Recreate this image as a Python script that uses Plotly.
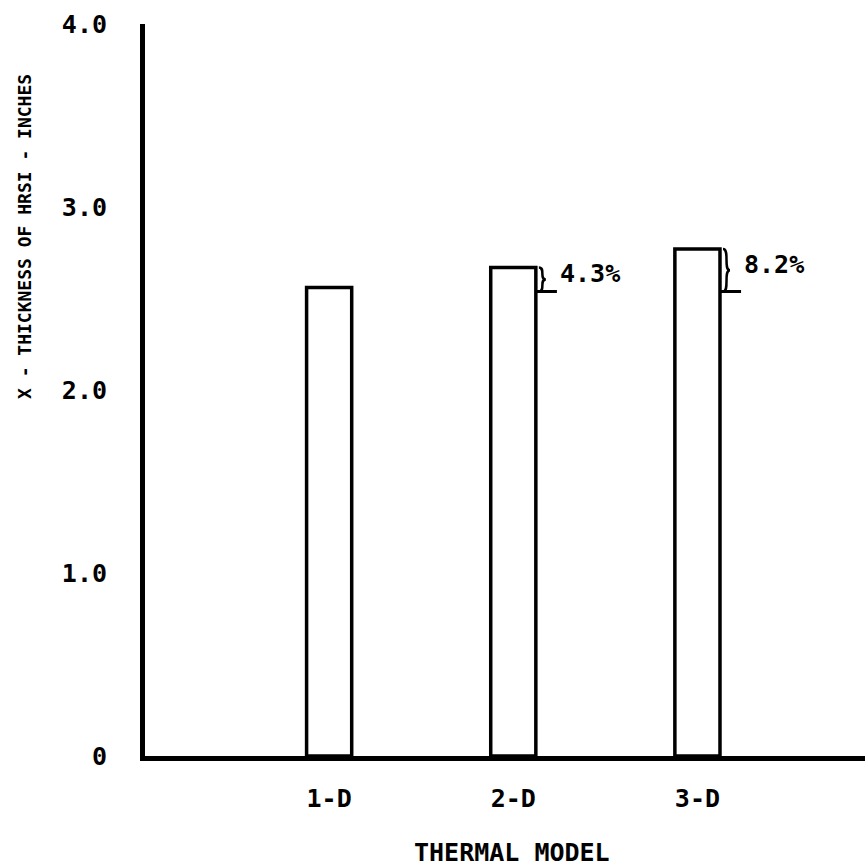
import plotly.graph_objects as go

categories = ["1-D", "2-D", "3-D"]
positions = [1, 2, 3]
thickness = [2.56, 2.67, 2.77]
pct_labels = ["", "4.3%", "8.2%"]
ytick_vals = [0, 1, 2, 3, 4]
ytick_text = ["0", "1.0", "2.0", "3.0", "4.0"]

FONT = "DejaVu Sans Mono"
BW = 0.245
PX_X = 1 / 183.5   # data units per pixel (x)
PX_Y = 1 / 184.0   # data units per pixel (y)

fig = go.Figure()
fig.add_trace(go.Bar(
    x=positions, y=thickness, width=BW,
    marker=dict(color="white", line=dict(color="black", width=3.5)),
    hoverinfo="skip",
))

shapes = []
annotations = []
base = thickness[0]
for xi, v, lab in zip(positions, thickness, pct_labels):
    if not lab:
        continue
    x0 = xi + BW / 2 + 3 * PX_X
    xm = x0 + 7 * PX_X
    ytop = v
    ybot = base - 4 * PX_Y
    ymid = (ytop + ybot) / 2
    path = (f"M {x0},{ytop} C {xm},{ytop} {x0},{ymid} {xm},{ymid} "
            f"C {x0},{ymid} {xm},{ybot} {x0},{ybot}")
    shapes.append(dict(type="path", path=path, xref="x", yref="y",
                       line=dict(color="black", width=2.5)))
    shapes.append(dict(type="line", xref="x", yref="y",
                       x0=x0 - 3 * PX_X, x1=x0 + 18 * PX_X, y0=ybot, y1=ybot,
                       line=dict(color="black", width=3)))
    annotations.append(dict(x=xm + 12 * PX_X, y=(ytop + ybot) / 2 + 6 * PX_Y,
                            xref="x", yref="y", text=lab, showarrow=False,
                            xanchor="left", yanchor="middle",
                            font=dict(family=FONT, size=25, color="black", weight="bold")))

annotations.append(dict(x=24, y=237, text="X - THICKNESS OF HRSI - INCHES",
                        showarrow=False, textangle=-90, xanchor="center", yanchor="middle",
                        font=dict(family=FONT, size=18, color="black", weight="bold")))
annotations.append(dict(x=512, y=852, text="THERMAL MODEL", showarrow=False,
                        xanchor="center", yanchor="middle",
                        font=dict(family=FONT, size=25, color="black", weight="bold")))

# convert pixel-positioned text annotations to paper coords
W, H = 865, 868
L, R, T, B = 145, 0, 24, 112
pw, ph = W - L - R, H - T - B
for a in annotations[-2:]:
    px, py = a["x"], a["y"]
    a["xref"] = "paper"; a["yref"] = "paper"
    a["x"] = (px - L) / pw
    a["y"] = (H - B - py) / ph

fig.update_layout(
    width=W, height=H,
    margin=dict(l=L, r=R, t=T, b=B),
    plot_bgcolor="white", paper_bgcolor="white",
    showlegend=False,
    shapes=shapes, annotations=annotations,
    font=dict(family=FONT, color="black"),
)
fig.update_xaxes(
    range=[0, 3.91], tickvals=positions, ticktext=categories,
    showline=True, linecolor="black", linewidth=5, mirror=False,
    showgrid=False, zeroline=False, ticks="", ticklabelstandoff=16,
    tickfont=dict(family=FONT, size=25, color="black", weight="bold"),
)
fig.update_yaxes(
    range=[0, 4.0], tickvals=ytick_vals, ticktext=ytick_text,
    showline=True, linecolor="black", linewidth=5,
    showgrid=False, zeroline=False, ticks="", ticklabelstandoff=28,
    tickfont=dict(family=FONT, size=25, color="black", weight="bold"),
)
fig.write_html("out.html", config={"displayModeBar": False},
               post_script="document.body.style.margin='0';")
